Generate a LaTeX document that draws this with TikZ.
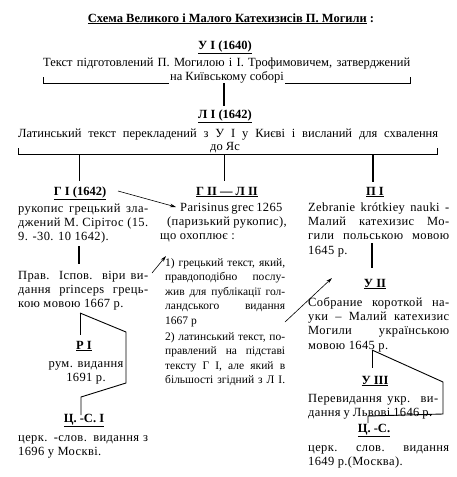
\documentclass[tikz,border=0pt]{standalone}
\usepackage{fontspec}
\setmainfont{Liberation Serif}
\newfontfamily\spfont[LetterSpace=3]{Liberation Serif}
\usetikzlibrary{arrows.meta}
\newcommand\bfont{\spfont\fontsize{12.5}{14.3}\selectfont}
\newcommand\hfont{\fontsize{12.5}{14.3}\selectfont}
\newcommand\mfont{\fontsize{11.5}{14.5}\selectfont}
\newcommand\jline[2]{\makebox[#1][s]{#2}}
\setlength{\parindent}{0pt}
\begin{document}
\begin{tikzpicture}[x=1pt,y=-1pt,
 txt/.style={font=\bfont, inner sep=0pt},
 toptxt/.style={font=\hfont, inner sep=0pt},
 hd/.style={font=\hfont\bfseries, inner sep=0pt, anchor=base},
 col/.style={txt, anchor=north west, align=left},
 mcol/.style={col, font=\mfont},
 ln/.style={line width=0.9pt},
 tk/.style={line width=1.4pt},
 arr/.style={line width=0.6pt, -{Stealth[length=6pt,width=3.5pt]}},
]
\useasboundingbox (0,0) rectangle (457,477);

% ---------- top ----------
\node[hd] (title) at (231,22) {\underline{Схема Великого і Малого Катехизисів П. Могили} :};
\node[hd] (u1) at (225,49) {\underline{У I (1640)}};
\node[toptxt, anchor=base west] (u1t) at (43,66) {\jline{367pt}{Текст підготовлений П. Могилою і І. Трофимовичем, затверджений}};
\coordinate (b1a) at (43,77);
\coordinate (b1b) at (410,77);
\coordinate (b1c) at (224,83);
\coordinate (b1d) at (224,106);
\draw[ln] (b1a) |- (b1b |- b1c) -- (b1b);
\node[toptxt, anchor=base, fill=white, inner sep=1pt] (u1u) at (227,80) {на Київському соборі};
\draw[tk] (b1c) -- (b1d);

\node[hd] (l1) at (225,118) {\underline{Л I (1642)}};
\node[toptxt, anchor=base west] (l1t) at (18,137) {\jline{420pt}{Латинський текст перекладений з У I у Києві і висланий для схвалення}};
\coordinate (b2a) at (18,148);
\coordinate (b2b) at (437,148);
\coordinate (b2y) at (0,154);
\draw[ln] (b2a) |- (b2b |- b2y) -- (b2b);
\node[toptxt, anchor=base, fill=white, inner sep=1pt] (l1u) at (225,150) {до Яс};
\coordinate (v1a) at (79,154);  \coordinate (v1b) at (79,181);
\coordinate (v2a) at (224,154); \coordinate (v2b) at (224,181);
\coordinate (v3a) at (373,154); \coordinate (v3b) at (373,182);
\draw[ln] (v1a) -- (v1b);
\draw[ln] (v2a) -- (v2b);
\draw[tk] (v3a) -- (v3b);

% ---------- left column ----------
\node[hd] (g1) at (80,195) {\underline{Г I (1642)}};
\node[col] (g1t) at (18,202) {\strut\jline{130pt}{рукопис грецький зла-}\\\jline{130pt}{джений М. Сірітос (15.}\\9. -30. 10 1642).};
\coordinate (lv1) at (79,246); \coordinate (lv2) at (79,264);
\draw[tk] (lv1) -- (lv2);
\node[col] (prav) at (18,269) {\strut\jline{130pt}{Прав. Іспов. віри ви-}\\\jline{130pt}{дання princeps грець-}\\кою мовою 1667 р.};
\coordinate (pa) at (80,313);
\coordinate (pb) at (80,335);
\coordinate (pc) at (126,332);
\coordinate (pd) at (126,383);
\coordinate (pe) at (81,397);
\coordinate (pf) at (81,415);
\draw[ln] (pa) -- (pb);
\draw[ln] (pa) -- (pc) -- (pd) -- (pe) -- (pf);
\node[hd] (r1) at (84,349) {\underline{Р I}};
\node[txt, anchor=north, align=center] (r1t) at (86,357) {\strut рум. видання\\1691 р.};
\node[hd] (cs1) at (84,422) {\underline{Ц. -С. I}};
\node[col] (cs1t) at (18,431) {\strut\jline{130pt}{церк. -слов. видання з}\\1696 у Москві.};

% ---------- middle column ----------
\node[hd] (g2) at (227,195) {\underline{Г II — Л II}};
\node[col] (paris) at (160,201) {\strut\hspace*{20pt}\jline{100pt}{Parisinus grec 1265}\\\hspace*{7pt}(паризький рукопис),\\що охоплює :};
\node[mcol] (m1) at (165,256) {\strut\jline{120pt}{1) грецький текст, який,}\\\jline{120pt}{правдоподібно послу-}\\\jline{120pt}{жив для публікації гол-}\\\jline{120pt}{ландського видання}\\1667 р};
\node[mcol] (m2) at (165,330) {\strut\jline{120pt}{2) латинський текст, по-}\\\jline{120pt}{правлений на підставі}\\\jline{120pt}{тексту Г I, але який в}\\\jline{120pt}{більшості згідний з Л I.}};
\coordinate (a1s) at (118,191); \coordinate (a1e) at (176,207);
\draw[arr] (a1s) -- (a1e);
\coordinate (a2s) at (152,273); \coordinate (a2e) at (166,256);
\draw[arr] (a2s) -- (a2e);
\coordinate (a3s) at (285,322); \coordinate (a3e) at (332,278);
\draw[arr] (a3s) -- (a3e);

% ---------- right column ----------
\node[hd] (p1) at (375,195) {\underline{П I}};
\node[col] (p1t) at (308,201) {\strut\jline{141pt}{Zebranie krótkiey nauki -}\\\jline{141pt}{Малий катехизис Мо-}\\\jline{141pt}{гили польською мовою}\\1645 р.};
\coordinate (rv1) at (372,243); \coordinate (rv2) at (372,268);
\draw[tk] (rv1) -- (rv2);
\node[hd] (u2) at (375,287) {\underline{У II}};
\node[col] (u2t) at (308,296) {\strut\jline{141pt}{Собрание короткой на-}\\\jline{141pt}{уки – Малий катехизис}\\\jline{141pt}{Могили українською}\\мовою 1645 р.};
\coordinate (qa) at (372,350);
\coordinate (qb) at (372,368);
\coordinate (qc) at (443,382);
\coordinate (qd) at (443,414);
\coordinate (qe) at (368,416);
\coordinate (qf) at (368,423);
\draw[ln] (qa) -- (qb);
\draw[ln] (qa) -- (qc) -- (qd) -- (qe) -- (qf);
\node[hd] (u3) at (375,384) {\underline{У III}};
\node[col] (u3t) at (308,392) {\strut\jline{130pt}{Перевидання укр. ви-}\\\jline{124pt}{дання у Львові 1646 р.}};
\node[hd] (cs2) at (374,432) {\underline{Ц. -С.}};
\node[col] (cs2t) at (308,441) {\strut\jline{141pt}{церк. слов. видання}\\1649 р.(Москва).};
\end{tikzpicture}
\end{document}
